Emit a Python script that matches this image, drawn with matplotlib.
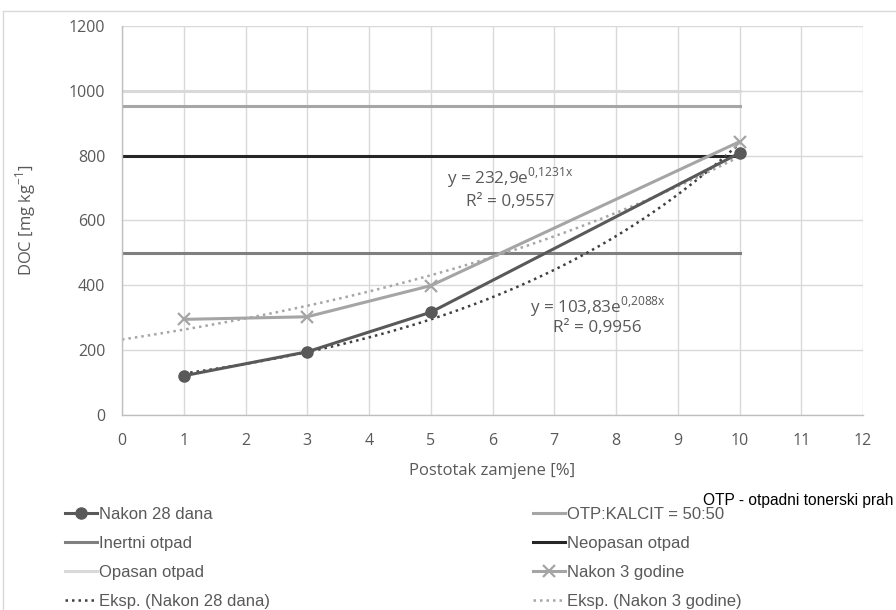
import matplotlib
matplotlib.use("Agg")
import matplotlib.pyplot as plt
import numpy as np
from matplotlib.lines import Line2D

plt.rcParams['font.family'] = ['Open Sans', 'DejaVu Sans']

# ---- data ----
x_pct = [1, 3, 5, 10]
doc_28d = [121, 195, 317, 808]
doc_3g = [295, 303, 399, 843]

limit_x = [0, 10]
otp_kalcit = 953
inertni = 500
neopasan = 800
opasan = 1000

trend28_a, trend28_b = 103.83, 0.2088
trend3g_a, trend3g_b = 232.9, 0.1231
trend28_range = (1, 10)
trend3g_range = (0, 10)

x_ticks = list(range(0, 13))
y_ticks = list(range(0, 1201, 200))

txt = '#595959'

fig = plt.figure(figsize=(8.96, 6.10), dpi=100)
ax = fig.add_axes([122/896, 1-415/610, (863-122)/896, (415-26)/610])

ax.set_xlim(0, 12)
ax.set_ylim(0, 1200)
ax.set_xticks(x_ticks)
ax.set_yticks(y_ticks)
ax.grid(True, color='#d9d9d9', lw=1.0)
ax.set_axisbelow(True)
for s in ['top', 'right']:
    ax.spines[s].set_visible(False)
for s in ['left', 'bottom']:
    ax.spines[s].set_color('#bfbfbf')
    ax.spines[s].set_linewidth(1.0)
ax.tick_params(length=0, labelsize=11.5, colors=txt)
ax.tick_params(axis='x', pad=13)
ax.tick_params(axis='y', pad=12)

# limit lines
h_opasan, = ax.plot(limit_x, [opasan]*2, color='#d9d9d9', lw=2.2, label='Opasan otpad')
h_otp, = ax.plot(limit_x, [otp_kalcit]*2, color='#a6a6a6', lw=2.2, label='OTP:KALCIT = 50:50')
h_neo, = ax.plot(limit_x, [neopasan]*2, color='#262626', lw=2.2, label='Neopasan otpad')
h_inert, = ax.plot(limit_x, [inertni]*2, color='#7f7f7f', lw=2.2, label='Inertni otpad')

# trend lines
xt28 = np.linspace(*trend28_range, 200)
xt3g = np.linspace(*trend3g_range, 200)
h_e28, = ax.plot(xt28, trend28_a*np.exp(trend28_b*xt28), color='#404040', lw=1.8,
                 ls=(0, (1, 1.6)), label='Eksp. (Nakon 28 dana)')
h_e3g, = ax.plot(xt3g, trend3g_a*np.exp(trend3g_b*xt3g), color='#a6a6a6', lw=1.8,
                 ls=(0, (1, 1.6)), label='Eksp. (Nakon 3 godine)')

# data series
h_3g, = ax.plot(x_pct, doc_3g, color='#a5a5a5', lw=2.2, marker='x', ms=8, mew=1.6,
                label='Nakon 3 godine')
h_28, = ax.plot(x_pct, doc_28d, color='#595959', lw=2.2, marker='o', ms=8,
                label='Nakon 28 dana')

ax.set_xlabel('Postotak zamjene [%]', fontsize=12, color=txt, labelpad=10)
ax.set_ylabel(r'DOC [mg kg$^{\mathregular{-1}}$]', fontsize=12, color=txt, labelpad=22)

# trend equations
eq_fs = 12.3
ax.text(6.28, 731, r'y = 232,9e$^{\mathregular{0{,}1231x}}$', fontsize=eq_fs, color=txt,
        ha='center', va='center')
ax.text(6.28, 657, 'R² = 0,9557', fontsize=eq_fs, color=txt, ha='center', va='center')
ax.text(7.71, 333, r'y = 103,83e$^{\mathregular{0{,}2088x}}$', fontsize=eq_fs, color=txt,
        ha='center', va='center')
ax.text(7.69, 268, 'R² = 0,9956', fontsize=eq_fs, color=txt, ha='center', va='center')

# legends
leg_kw = dict(frameon=False, prop={'family': 'Liberation Sans', 'size': 12},
              handlelength=1.9, handletextpad=0.15,
              labelspacing=0.84, borderpad=0, borderaxespad=0, labelcolor=txt,
              loc='upper left')
leg1 = fig.legend(handles=[h_28, h_inert, h_opasan, h_e28],
                  bbox_to_anchor=(65/896, 1-507/610), **leg_kw)
leg2 = fig.legend(handles=[h_otp, h_neo, h_3g, h_e3g],
                  bbox_to_anchor=(533/896, 1-507/610), **leg_kw)

fig.text(703/896, 1-501/610, 'OTP - otpadni tonerski prah', fontsize=11.2, color='black',
         family='Liberation Sans', ha='left', va='center')

# outer chart frame
fig.add_artist(Line2D([3/896, 1], [1-11/610]*2, color='#d9d9d9', lw=1))
fig.add_artist(Line2D([3/896]*2, [0, 1-11/610], color='#d9d9d9', lw=1))

fig.savefig('out.png', dpi=100)
